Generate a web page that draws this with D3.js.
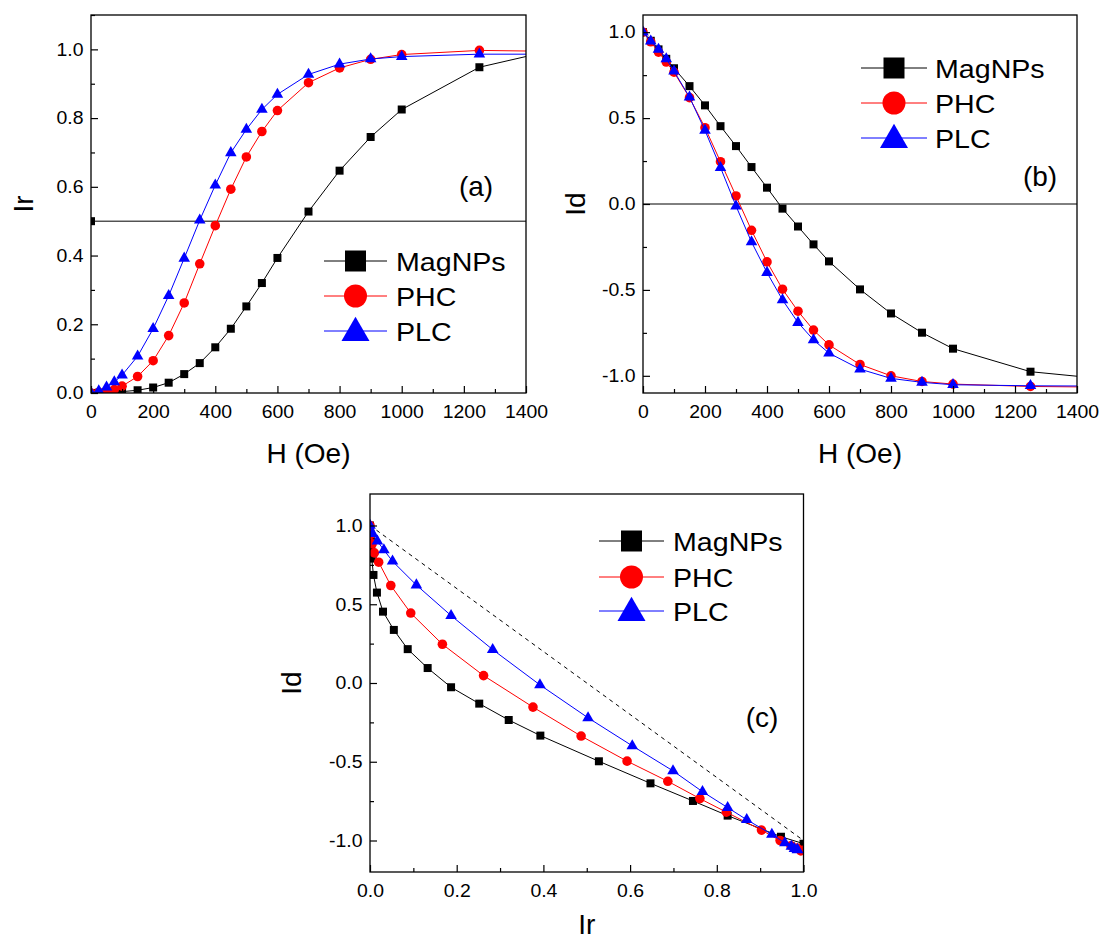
<!DOCTYPE html>
<html lang="en">
<head>
<meta charset="UTF-8">
<title>Ir / Id remanence curves</title>
<style>
  body { margin: 0; background: #fff; }
  svg text { font-family: Arial, "Liberation Sans", sans-serif; fill: #000; }
</style>
</head>
<body>
<svg id="chart" width="1104" height="942"></svg>
<script src="https://d3js.org/d3.v7.min.js"></script>
<script>
// applied field H (Oe), shared by both remanence curves
const fieldH = [0, 25, 50, 75, 100, 150, 200, 250, 300, 350, 400, 450, 500, 550, 600, 700, 800, 900, 1000, 1250, 1500];

// IRM remanence Ir(H)
const irMagNPs = [0, 0.001, 0.002, 0.003, 0.004, 0.008, 0.016, 0.030, 0.055, 0.087, 0.133, 0.187, 0.252, 0.320, 0.393, 0.528, 0.647, 0.745, 0.825, 0.948, 1.0];
const irPHC    = [0, 0.002, 0.005, 0.010, 0.020, 0.048, 0.094, 0.167, 0.262, 0.376, 0.487, 0.593, 0.687, 0.761, 0.822, 0.903, 0.946, 0.971, 0.985, 0.997, 0.994];
const irPLC    = [0, 0.006, 0.017, 0.032, 0.052, 0.107, 0.187, 0.283, 0.392, 0.503, 0.605, 0.699, 0.767, 0.825, 0.869, 0.927, 0.957, 0.972, 0.979, 0.986, 0.986];

// DCD remanence Id(H)
const idMagNPs = [1.0, 0.95, 0.90, 0.845, 0.79, 0.686, 0.574, 0.453, 0.337, 0.215, 0.095, -0.027, -0.131, -0.235, -0.334, -0.497, -0.637, -0.749, -0.842, -0.976, -1.02];
const idPHC    = [1.0, 0.944, 0.884, 0.826, 0.767, 0.619, 0.444, 0.246, 0.047, -0.153, -0.337, -0.496, -0.624, -0.734, -0.820, -0.934, -1.0, -1.033, -1.048, -1.062, -1.066];
const idPLC    = [1.0, 0.948, 0.90, 0.845, 0.773, 0.622, 0.428, 0.212, -0.012, -0.221, -0.399, -0.558, -0.690, -0.791, -0.868, -0.961, -1.015, -1.038, -1.052, -1.058, -1.06];

const seriesNames = ['MagNPs', 'PHC', 'PLC'];
const irSeries = [irMagNPs, irPHC, irPLC];
const idSeries = [idMagNPs, idPHC, idPLC];

// reference lines
const irHalf = 0.5;                 // Ir = 0.5 level in (a)
const idZero = 0;                   // Id = 0 level in (b)
const wohlfarthIr = [0, 1];         // Id = 1 - 2 Ir in (c)
const wohlfarthId = [1, -1];

// ticks
const hTicks = [0, 200, 400, 600, 800, 1000, 1200, 1400];
const hMinor = [100, 300, 500, 700, 900, 1100, 1300];
const irTicks = [0, 0.2, 0.4, 0.6, 0.8, 1.0];
const irMinor = [0.1, 0.3, 0.5, 0.7, 0.9, 1.1];
const idTicks = [-1.0, -0.5, 0, 0.5, 1.0];
const idMinor = [-0.75, -0.25, 0.25, 0.75];

// styles
const colors = ['#000000', '#ff0000', '#0000ff'];
const shapes = [d3.symbolSquare, d3.symbolCircle, d3.symbolTriangle];
const markArea = [64, 72, 58];
const legArea = [441, 415, 340];
const TICK_SX = 1.08, LEG_SX = 1.1;

const svg = d3.select('#chart');
svg.append('rect').attr('width', 1104).attr('height', 942).attr('fill', '#fff');

function drawPanel(p) {
  const x = d3.scaleLinear().domain(p.xDomain).range(p.xRange);
  const y = d3.scaleLinear().domain(p.yDomain).range(p.yRange);
  const g = svg.append('g');

  const clipId = 'clip-' + p.name;
  svg.append('clipPath').attr('id', clipId).append('rect')
    .attr('x', p.xRange[0]).attr('y', p.yRange[1])
    .attr('width', p.xRange[1] - p.xRange[0])
    .attr('height', p.yRange[0] - p.yRange[1]);
  const plot = g.append('g').attr('clip-path', `url(#${clipId})`);

  if (p.extra) p.extra(plot, x, y);

  const line = d3.line().x(d => x(d[0])).y(d => y(d[1]));
  p.series.forEach((s, i) => {
    const pts = s.xs.map((v, k) => [v, s.ys[k]]);
    plot.append('path').datum(pts)
      .attr('d', line).attr('fill', 'none')
      .attr('stroke', colors[i]).attr('stroke-width', 1);
    plot.selectAll(null).data(pts).enter().append('path')
      .attr('d', d3.symbol(shapes[i], markArea[i]))
      .attr('transform', d => `translate(${x(d[0])},${y(d[1])})`)
      .attr('fill', colors[i]);
  });

  // axes: ticks pointing inward, labels outside
  const ax = g.append('g').attr('transform', `translate(0,${p.yRange[0]})`)
    .call(d3.axisBottom(x).tickValues(p.xTicks).tickSizeInner(-7).tickSizeOuter(0)
      .tickPadding(12).tickFormat(p.xFormat));
  ax.append('g').call(d3.axisBottom(x).tickValues(p.xMinor).tickSize(-4).tickFormat(''));
  const ay = g.append('g').attr('transform', `translate(${p.xRange[0]},0)`)
    .call(d3.axisLeft(y).tickValues(p.yTicks).tickSizeInner(-7).tickSizeOuter(0)
      .tickPadding(7).tickFormat(d3.format('.1f')));
  ay.append('g').call(d3.axisLeft(y).tickValues(p.yMinor).tickSize(-4).tickFormat(''));
  [ax, ay].forEach(a => {
    a.selectAll('.domain').remove();
    a.selectAll('line').attr('stroke', '#000').attr('stroke-width', 1.2);
    a.selectAll('text').attr('font-size', 18).attr('font-family', null)
      .attr('transform', `scale(${TICK_SX},1)`)
      .text(function () { return d3.select(this).text().replace('\u2212', '-'); });
  });

  g.append('rect')
    .attr('x', p.xRange[0]).attr('y', p.yRange[1])
    .attr('width', p.xRange[1] - p.xRange[0])
    .attr('height', p.yRange[0] - p.yRange[1])
    .attr('fill', 'none').attr('stroke', '#000').attr('stroke-width', 1.3);

  // titles
  g.append('text').attr('x', (p.xRange[0] + p.xRange[1]) / 2).attr('y', p.xTitleY)
    .attr('text-anchor', 'middle').attr('font-size', 28).text(p.xTitle);
  g.append('text')
    .attr('transform', `translate(${p.yTitleX},${(p.yRange[0] + p.yRange[1]) / 2}) rotate(-90)`)
    .attr('text-anchor', 'middle').attr('font-size', 28).text(p.yTitle);
  g.append('text').attr('x', p.label[1]).attr('y', p.label[2])
    .attr('text-anchor', 'middle').attr('font-size', 28).text(p.label[0]);

  // legend
  const lg = g.append('g');
  seriesNames.forEach((name, i) => {
    const ry = p.legend.y[i];
    lg.append('line').attr('x1', p.legend.x1).attr('x2', p.legend.x2)
      .attr('y1', ry).attr('y2', ry).attr('stroke', colors[i]).attr('stroke-width', 1);
    lg.append('path').attr('d', d3.symbol(shapes[i], legArea[i]))
      .attr('transform', `translate(${(p.legend.x1 + p.legend.x2) / 2},${ry + (i === 2 ? 2 : 0)})`)
      .attr('fill', colors[i]);
    lg.append('text')
      .attr('transform', `translate(${p.legend.tx},${ry + 9.5}) scale(${LEG_SX},1)`)
      .attr('font-size', 26).text(name);
  });
}

// (a) Ir vs H
drawPanel({
  name: 'a', xDomain: [0, 1400], yDomain: [0, 1.1],
  xRange: [91, 526], yRange: [393, 15],
  xTicks: hTicks, xMinor: hMinor, xFormat: d3.format('d'),
  yTicks: irTicks, yMinor: irMinor,
  series: irSeries.map(ys => ({ xs: fieldH, ys })),
  xTitle: 'H (Oe)', xTitleY: 463, yTitle: 'Ir', yTitleX: 33,
  label: ['(a)', 476, 196],
  legend: { x1: 324, x2: 387, tx: 396, y: [261, 296, 331] },
  extra: (plot, x, y) => {
    plot.append('line').attr('x1', x(0)).attr('x2', x(1400))
      .attr('y1', y(irHalf)).attr('y2', y(irHalf)).attr('stroke', '#000').attr('stroke-width', 1);
    plot.append('path').attr('d', d3.symbol(d3.symbolSquare, markArea[0]))
      .attr('transform', `translate(${x(0)},${y(irHalf)})`);
  }
});

// (b) Id vs H
drawPanel({
  name: 'b', xDomain: [0, 1400], yDomain: [-1.1, 1.1],
  xRange: [643, 1077], yRange: [393, 15],
  xTicks: hTicks, xMinor: hMinor, xFormat: d3.format('d'),
  yTicks: idTicks, yMinor: idMinor,
  series: idSeries.map(ys => ({ xs: fieldH, ys })),
  xTitle: 'H (Oe)', xTitleY: 463, yTitle: 'Id', yTitleX: 585,
  label: ['(b)', 1040, 186],
  legend: { x1: 861, x2: 927, tx: 935, y: [68, 103, 138] },
  extra: (plot, x, y) => {
    plot.append('line').attr('x1', x(0)).attr('x2', x(1400))
      .attr('y1', y(idZero)).attr('y2', y(idZero)).attr('stroke', '#000').attr('stroke-width', 1);
  }
});

// (c) Id vs Ir (Henkel plot)
drawPanel({
  name: 'c', xDomain: [0, 1], yDomain: [-1.2, 1.2],
  xRange: [370, 803.5], yRange: [872, 494],
  xTicks: [0, 0.2, 0.4, 0.6, 0.8, 1.0], xMinor: [0.1, 0.3, 0.5, 0.7, 0.9], xFormat: d3.format('.1f'),
  yTicks: idTicks, yMinor: idMinor,
  series: irSeries.map((xs, i) => ({ xs, ys: idSeries[i] })),
  xTitle: 'Ir', xTitleY: 934, yTitle: 'Id', yTitleX: 301,
  label: ['(c)', 762, 727],
  legend: { x1: 599, x2: 664, tx: 673, y: [541, 577, 611] },
  extra: (plot, x, y) => {
    plot.append('line')
      .attr('x1', x(wohlfarthIr[0])).attr('y1', y(wohlfarthId[0]))
      .attr('x2', x(wohlfarthIr[1])).attr('y2', y(wohlfarthId[1]))
      .attr('stroke', '#000').attr('stroke-width', 1).attr('stroke-dasharray', '4,4');
  }
});
</script>
</body>
</html>
